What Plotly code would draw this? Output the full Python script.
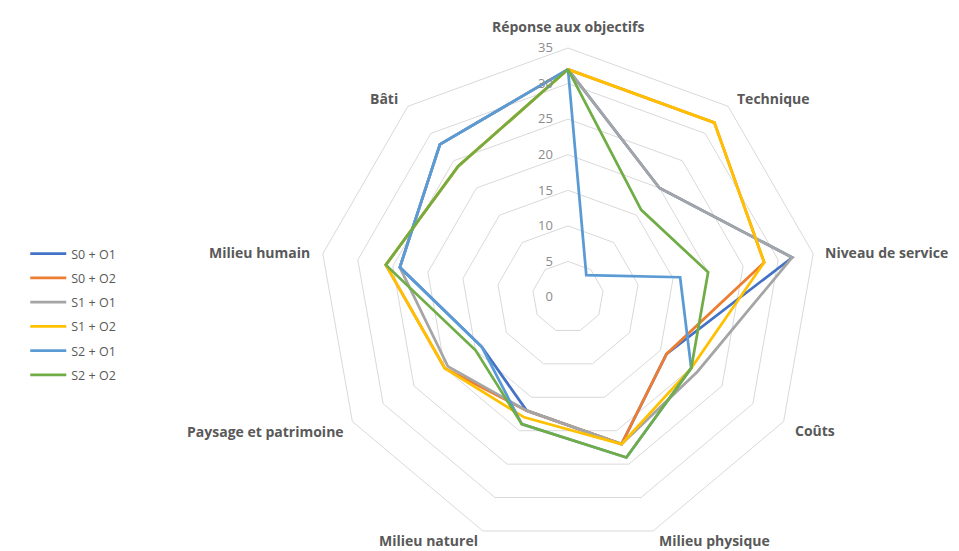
import math
import plotly.graph_objects as go

categories = ["Réponse aux objectifs", "Technique", "Niveau de service", "Coûts",
              "Milieu physique", "Milieu naturel", "Paysage et patrimoine",
              "Milieu humain", "Bâti"]

series_names = ["S0 + O1", "S0 + O2", "S1 + O1", "S1 + O2", "S2 + O1", "S2 + O2"]

s0_o1 = [32, 20, 32, 16, 22, 17, 14, 24, 28]
s0_o2 = [32, 32, 28, 16, 22, 17, 20, 26, 24]
s1_o1 = [32, 20, 32, 21, 22, 17, 19.5, 24, 28]
s1_o2 = [32, 32, 28, 20, 22, 18, 20, 26, 24]
s2_o1 = [32, 4, 16, 20, 24, 19, 14, 24, 28]
s2_o2 = [32, 16, 20, 20, 24, 19, 15, 26, 24]

series_values = [s0_o1, s0_o2, s1_o1, s1_o2, s2_o1, s2_o2]
colors = ["#4472C4", "#ED7D31", "#A5A5A5", "#FFC000", "#5B9BD5", "#70AD47"]

radial_ticks = [0, 5, 10, 15, 20, 25, 30, 35]
r_max = 35

fig = go.Figure()
for name, vals, col in zip(series_names, series_values, colors):
    fig.add_trace(go.Scatterpolar(
        r=vals + [vals[0]],
        theta=categories + [categories[0]],
        mode="lines",
        name=name,
        legendgroup=name,
        line=dict(color=col, width=2.75),
    ))

W, H = 959, 551
cx, cy, R = 560, 289, 249          # pole position in figure pixels, outer radius

# category label placement relative to the outer vertex (px offset, anchor)
label_style = [
    (0, -21, "center"),
    (7, -8, "left"),
    (10, -1, "left"),
    (9, 9, "left"),
    (4, 10, "left"),
    (-3, 10, "right"),
    (-6, 10, "right"),
    (-11, -1, "right"),
    (-8, -8, "right"),
]
annotations = []
n = len(categories)
for i, (cat, (dx, dy, anc)) in enumerate(zip(categories, label_style)):
    ang = math.radians(360 * i / n)
    vx = cx + R * math.sin(ang)
    vy = cy - R * math.cos(ang)
    annotations.append(dict(
        text=cat, showarrow=False, xref="paper", yref="paper",
        x=(vx + dx) / W, y=1 - (vy + dy) / H,
        xanchor=anc, yanchor="middle",
        font=dict(size=14, color="#595959", family="Open Sans", weight="bold"),
    ))

fig.update_layout(
    width=W, height=H,
    margin=dict(l=0, r=0, t=0, b=0),
    paper_bgcolor="white",
    plot_bgcolor="white",
    font=dict(family="Open Sans", color="#595959"),
    annotations=annotations,
    polar=dict(
        domain=dict(x=[(cx - R) / W, (cx + R) / W],
                    y=[(H - cy - R) / H, (H - cy + R) / H]),
        bgcolor="white",
        gridshape="linear",
        radialaxis=dict(
            range=[0, r_max],
            tickvals=radial_ticks,
            ticktext=[str(t) for t in radial_ticks],
            angle=90,
            tickangle=90,
            side="counterclockwise",
            showline=False,
            ticks="outside",
            ticklen=10,
            tickcolor="rgba(0,0,0,0)",
            gridcolor="#D9D9D9",
            gridwidth=1,
            tickfont=dict(size=13, color="#8C8C8C"),
        ),
        angularaxis=dict(
            direction="clockwise",
            rotation=90,
            showgrid=False,
            showline=True,
            linecolor="#D9D9D9",
            linewidth=1,
            ticks="",
            showticklabels=False,
        ),
    ),
    legend=dict(
        x=0.018, y=0.4437, xanchor="left", yanchor="middle",
        font=dict(size=12.5, color="#595959"),
        itemwidth=36,
        tracegroupgap=5,
        traceorder="grouped",
        bgcolor="rgba(0,0,0,0)",
    ),
    showlegend=True,
)

fig.write_html("out.html")
